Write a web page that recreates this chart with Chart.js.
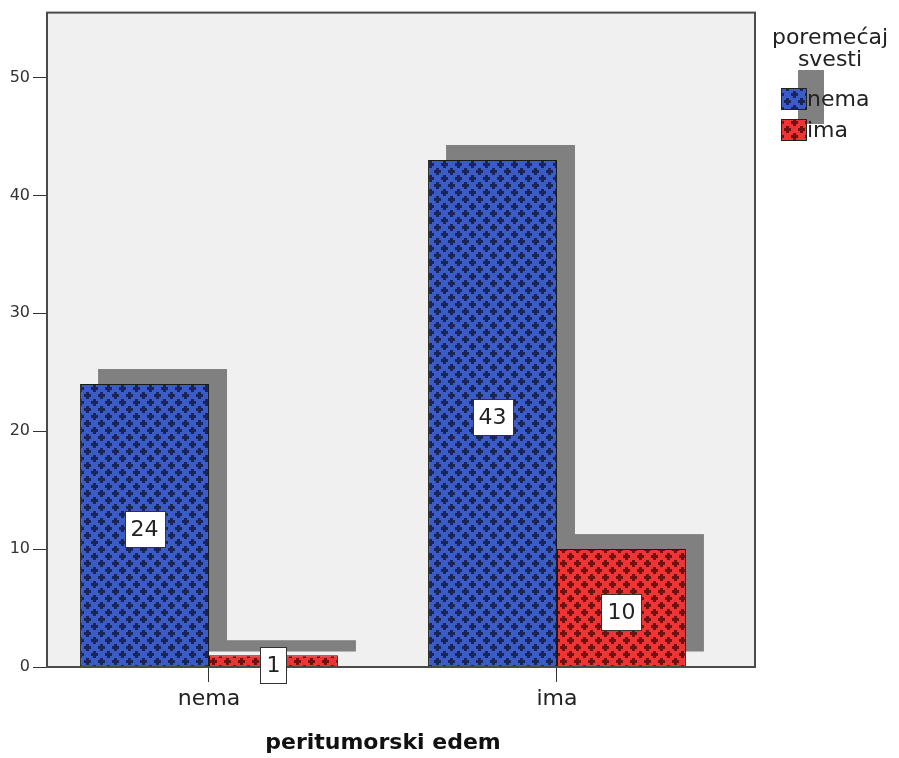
<!DOCTYPE html>
<html>
<head>
<meta charset="utf-8">
<script src="https://cdn.jsdelivr.net/npm/chart.js@4.4.1/dist/chart.umd.min.js"></script>
<style>
  body { margin: 0; background: #fff; }
  canvas { display: block; }
</style>
</head>
<body>
<canvas id="c" width="899" height="758"></canvas>
<script>
// data
const categories = ["nema", "ima"];          // peritumorski edem
const seriesNames = ["nema", "ima"];         // poremećaj svesti
const nemaValues = [24, 43];
const imaValues = [1, 10];
const yTicks = [0, 10, 20, 30, 40, 50];

const FONT = "'DejaVu Sans', 'Liberation Sans', Arial, sans-serif";
const SHADOW_DX = 18, SHADOW_DY = -15;

const ctx = document.getElementById("c").getContext("2d");

// cross-hatch fill like the SPSS pattern
function makePattern(base, dark) {
  const t = document.createElement("canvas");
  t.width = 14; t.height = 14;
  const g = t.getContext("2d");
  g.fillStyle = base;
  g.fillRect(0, 0, 14, 14);
  g.fillStyle = dark;
  const plus = (cx, cy) => {
    g.fillRect(cx - 1, cy - 3, 3, 7);
    g.fillRect(cx - 3, cy - 1, 7, 3);
  };
  plus(3, 3);
  plus(10, 10);
  return ctx.createPattern(t, "repeat");
}
const bluePat = makePattern("#3b5bc6", "#1a2558");
const redPat = makePattern("#ee3434", "#701212");
const fills = [bluePat, redPat];

const toPoints = vals => vals.map((v, i) => ({ x: i, y: v }));

const spssLook = {
  id: "spssLook",
  beforeDraw(chart) {
    const a = chart.chartArea;
    const c = chart.ctx;
    c.save();
    c.fillStyle = "#f0f0f0";
    c.fillRect(a.left, a.top, a.right - a.left, a.bottom - a.top);
    c.restore();
  },
  beforeDatasetsDraw(chart) {
    // drop shadows behind every bar
    const c = chart.ctx;
    c.save();
    c.fillStyle = "#808080";
    chart.data.datasets.forEach((ds, di) => {
      chart.getDatasetMeta(di).data.forEach(bar => {
        const p = bar.getProps(["x", "y", "base", "width"], true);
        c.fillRect(p.x - p.width / 2 + SHADOW_DX, p.y + SHADOW_DY, p.width, p.base - p.y);
      });
    });
    c.restore();
  },
  afterDatasetsDraw(chart) {
    const a = chart.chartArea;
    const c = chart.ctx;
    c.save();
    c.strokeStyle = "#4a4a4a";
    c.lineWidth = 2;
    c.strokeRect(a.left, a.top, a.right - a.left, a.bottom - a.top);

    // value labels
    c.font = "22px " + FONT;
    c.textAlign = "center";
    c.textBaseline = "middle";
    chart.data.datasets.forEach((ds, di) => {
      chart.getDatasetMeta(di).data.forEach((bar, i) => {
        const p = bar.getProps(["x", "y", "base"], true);
        const txt = String(ds.data[i].y);
        const w = c.measureText(txt).width + 12;
        const h = 36;
        const cy = (p.y + p.base) / 2 + 4;
        c.fillStyle = "#ffffff";
        c.fillRect(Math.round(p.x - w / 2) + 0.5, Math.round(cy - h / 2) + 0.5, Math.round(w), h);
        c.strokeStyle = "#333";
        c.lineWidth = 1;
        c.strokeRect(Math.round(p.x - w / 2) + 0.5, Math.round(cy - h / 2) + 0.5, Math.round(w), h);
        c.fillStyle = "#222";
        c.fillText(txt, p.x, cy + 1);
      });
    });
    c.restore();
  },
  afterDraw(chart) {
    const c = chart.ctx;
    const xs = chart.scales.x;
    c.save();
    // x axis title, centred under the two categories
    c.font = "bold 22px " + FONT;
    c.fillStyle = "#111";
    c.textAlign = "center";
    c.textBaseline = "middle";
    const mid = (xs.getPixelForValue(0) + xs.getPixelForValue(categories.length - 1)) / 2;
    c.fillText("peritumorski edem", mid, 743);

    // legend
    c.font = "22px " + FONT;
    c.fillStyle = "#222";
    c.fillText("poremećaj", 830, 38);
    c.fillText("svesti", 830, 60);
    c.fillStyle = "#808080";
    c.fillRect(798, 70, 26, 54);
    seriesNames.forEach((name, i) => {
      const y = 88 + i * 31;
      c.fillStyle = fills[i];
      c.fillRect(781, y, 25, 21);
      c.strokeStyle = "#222";
      c.lineWidth = 1;
      c.strokeRect(781.5, y + 0.5, 25, 21);
      c.fillStyle = "#222";
      c.textAlign = "left";
      c.fillText(name, 807, y + 12);
    });
    c.restore();
  }
};

new Chart(ctx, {
  type: "bar",
  data: {
    datasets: [
      { label: seriesNames[0], data: toPoints(nemaValues), backgroundColor: bluePat,
        borderColor: "#1a1a1a", borderWidth: 1 },
      { label: seriesNames[1], data: toPoints(imaValues), backgroundColor: redPat,
        borderColor: "#1a1a1a", borderWidth: 1 }
    ]
  },
  options: {
    responsive: false,
    devicePixelRatio: 1,
    animation: false,
    categoryPercentage: 0.741,
    barPercentage: 1,
    layout: { padding: { top: 12, right: 144, left: 0, bottom: 0 } },
    plugins: { legend: { display: false }, tooltip: { enabled: false } },
    scales: {
      x: {
        type: "linear",
        offset: false,
        min: -0.4655,
        max: 1.569,
        afterBuildTicks: s => { s.ticks = categories.map((c, i) => ({ value: i })); },
        afterFit: s => { s.height = 91; },
        ticks: {
          callback: v => categories[v],
          color: "#222",
          font: { family: FONT, size: 22 },
          padding: 4,
          autoSkip: false,
          maxRotation: 0
        },
        grid: { offset: false, drawOnChartArea: false, drawTicks: true, tickLength: 15, color: "#333" },
        border: { display: false }
      },
      y: {
        min: 0,
        max: 55.5,
        afterBuildTicks: s => { s.ticks = yTicks.map(v => ({ value: v })); },
        afterFit: s => { s.width = 47; },
        ticks: {
          color: "#333",
          font: { family: FONT, size: 16 },
          padding: 3
        },
        grid: { drawOnChartArea: false, drawTicks: true, tickLength: 14, color: "#333" },
        border: { display: false }
      }
    }
  },
  plugins: [spssLook]
});
</script>
</body>
</html>
